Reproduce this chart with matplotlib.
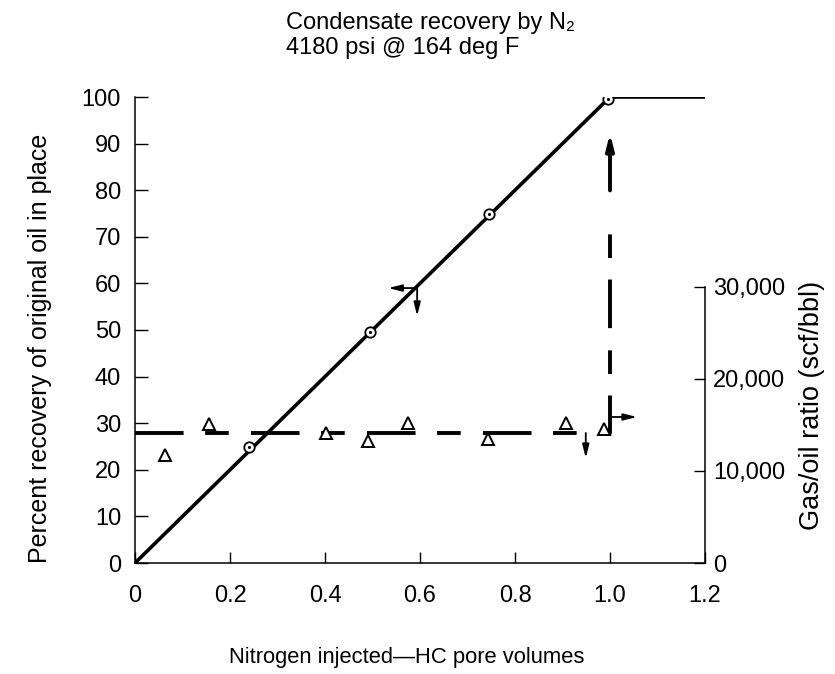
import matplotlib
matplotlib.use("Agg")
import matplotlib.pyplot as plt

plt.rcParams['font.family'] = ['Liberation Sans', 'DejaVu Sans']
plt.rcParams['lines.scale_dashes'] = False

# recovery curve (left axis, %)
rec_x = [0, 1.0, 1.2]
rec_y = [0, 100, 100]
circ_x = [0.24, 0.495, 0.745, 0.995]
circ_y = [25, 49.6, 75, 99.6]

# gas/oil ratio (right axis, scf/bbl)
gor_x = [0.063, 0.156, 0.402, 0.49, 0.575, 0.743, 0.907, 0.987]
gor_y = [11740, 15110, 14130, 13260, 15220, 13480, 15220, 14570]
gor_level = 14130
gor_breakthrough = 1.0
gor_top = 37800

xticks = [0, 0.2, 0.4, 0.6, 0.8, 1.0, 1.2]
xticklabels = ['0', '0.2', '0.4', '0.6', '0.8', '1.0', '1.2']
yticks = [0, 10, 20, 30, 40, 50, 60, 70, 80, 90, 100]
gor_ticks = [0, 10000, 20000, 30000]
gor_ticklabels = ['0', '10,000', '20,000', '30,000']

fig = plt.figure(figsize=(8.35, 6.74), dpi=100)
ax = fig.add_axes([135/835, 1-563/674, 570/835, 466/674])
ax2 = ax.twinx()

ax.set_xlim(0, 1.2)
ax.set_ylim(0, 100)
ax2.set_ylim(0, 30000*466/276)

# recovery
ax.plot(rec_x, rec_y, color='black', lw=2.6, solid_capstyle='butt', zorder=3)
ax.plot(circ_x, circ_y, 'o', ms=7.5, mfc='white', mec='black', mew=1.3, zorder=4)
ax.plot(circ_x, circ_y, '.', ms=2.5, color='black', zorder=5)

# gas/oil ratio
ax2.plot([0, gor_breakthrough, gor_breakthrough], [gor_level, gor_level, gor_top],
         color='black', lw=2.8, dashes=(35, 15.5, 17, 16), dash_capstyle='butt')
ax2.plot(gor_x, gor_y, '^', ms=9, mfc='white', mec='black', mew=1.4, zorder=4)
ax2.annotate('', xy=(gor_breakthrough, 46740), xytext=(gor_breakthrough, 40500),
             arrowprops=dict(arrowstyle='-|>,head_length=0.9,head_width=0.22',
                             lw=2.8, color='black', shrinkA=0, shrinkB=0))

# axis indicator arrows
arr = dict(arrowstyle='-|>,head_length=0.8,head_width=0.2', lw=1.3,
           color='black', shrinkA=0, shrinkB=0)
ax.annotate('', xy=(0.533, 59), xytext=(0.594, 59), arrowprops=arr)
ax.annotate('', xy=(0.594, 53), xytext=(0.594, 59), arrowprops=arr)
ax2.annotate('', xy=(1.057, 15870), xytext=(1.0, 15870), arrowprops=arr)
ax2.annotate('', xy=(0.949, 11400), xytext=(0.949, gor_level), arrowprops=arr)

# spines and ticks
for s in ['top', 'right']:
    ax.spines[s].set_visible(False)
for s in ['top', 'left', 'bottom']:
    ax2.spines[s].set_visible(False)
ax.spines['left'].set_bounds(0, 100)
ax2.spines['right'].set_bounds(0, 30000)
for sp in [ax.spines['left'], ax.spines['bottom'], ax2.spines['right']]:
    sp.set_linewidth(1.1)

ax.set_xticks(xticks)
ax.set_xticklabels(xticklabels)
ax.set_yticks(yticks)
ax2.set_yticks(gor_ticks)
ax2.set_yticklabels(gor_ticklabels)
ax.tick_params(axis='y', direction='in', length=9, width=1, labelsize=17, pad=10)
ax.tick_params(axis='x', direction='in', length=8, width=1, labelsize=17, pad=16)
ax2.tick_params(axis='y', direction='in', length=8, width=1, labelsize=17, pad=6)

fig.text(286/835, 1-23/674, 'Condensate recovery by N\u2082', fontsize=17, va='center', ha='left')
fig.text(286/835, 1-48/674, '4180 psi @ 164 deg F', fontsize=17, va='center', ha='left')
fig.text(40/835, 1-348/674, 'Percent recovery of original oil in place', fontsize=18,
         rotation=90, ha='center', va='center')
fig.text(812/835, 1-405/674, 'Gas/oil ratio (scf/bbl)', fontsize=19.5,
         rotation=90, ha='center', va='center')
fig.text(407/835, 1-658/674, 'Nitrogen injected\u2014HC pore volumes', fontsize=15.8,
         ha='center', va='center')

fig.savefig('out.png', dpi=100)
